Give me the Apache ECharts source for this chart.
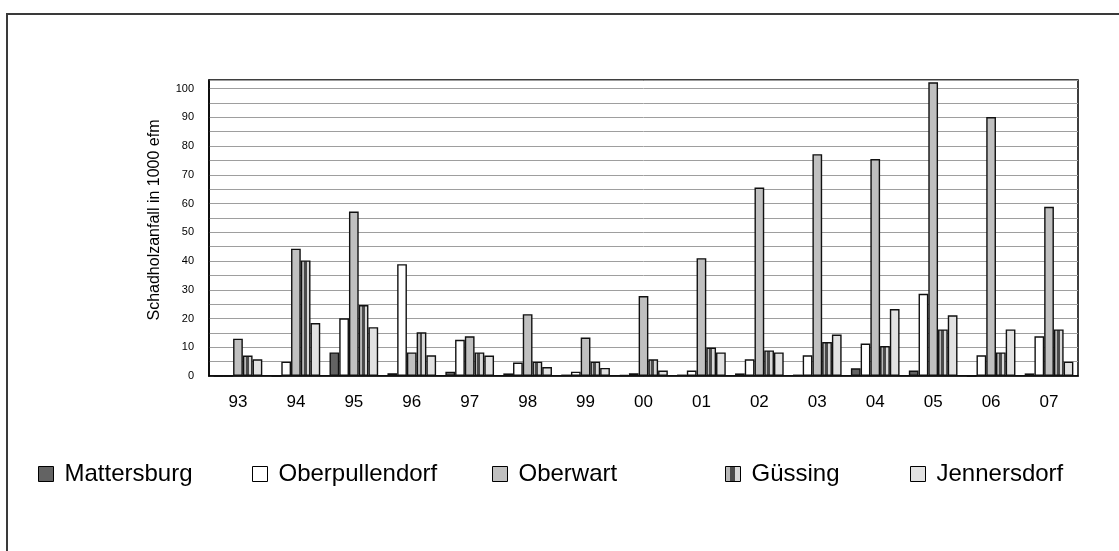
<!DOCTYPE html>
<html>
<head>
<meta charset="utf-8">
<script src="https://cdn.jsdelivr.net/npm/echarts@6/dist/echarts.min.js"></script>
<style>
  html, body { margin: 0; padding: 0; background: #fff; }
  #chart { width: 1119px; height: 551px; }
</style>
</head>
<body>
<div id="chart"></div>
<script>
// Schadholzanfall (1000 efm) per district, 1993–2007
const years = ['93','94','95','96','97','98','99','00','01','02','03','04','05','06','07'];
const mattersburg    = [0, 0, 8.2, 1.0, 1.5, 0.9, 0.5, 0.4, 0.5, 0.9, 0.5, 2.7, 1.9, 0, 0.9];
const oberpullendorf = [0, 5.0, 20.1, 38.9, 12.6, 4.7, 1.5, 1.0, 1.9, 5.8, 7.2, 11.3, 28.6, 7.2, 13.8];
const oberwart       = [13.0, 44.3, 57.2, 8.2, 13.8, 21.5, 13.4, 27.8, 41.0, 65.6, 77.2, 75.5, 102.2, 90.1, 58.9];
const guessing       = [7.1, 40.2, 24.7, 15.2, 8.2, 5.0, 5.0, 5.8, 9.9, 8.9, 11.8, 10.4, 16.2, 8.2, 16.2];
const jennersdorf    = [5.8, 18.4, 17.0, 7.2, 7.1, 3.1, 2.8, 1.9, 8.2, 8.2, 14.4, 23.3, 21.1, 16.2, 5.0];

const FONT = '"Liberation Sans", Arial, sans-serif';

// vertical stripe fill for Güssing
const stripes = {
  type: 'linear', x: 0, y: 0, x2: 1, y2: 0,
  colorStops: [
    { offset: 0.00, color: '#b8b8b8' },
    { offset: 0.30, color: '#b8b8b8' },
    { offset: 0.30, color: '#4a4a4a' },
    { offset: 0.60, color: '#4a4a4a' },
    { offset: 0.60, color: '#d8d8d8' },
    { offset: 1.00, color: '#d8d8d8' }
  ]
};

const seriesDefs = [
  { name: 'Mattersburg', data: mattersburg, color: '#636363' },
  { name: 'Oberpullendorf', data: oberpullendorf, color: '#ffffff' },
  { name: 'Oberwart', data: oberwart, color: '#c0c0c0' },
  { name: 'Güssing', data: guessing, color: stripes },
  { name: 'Jennersdorf', data: jennersdorf, color: '#e2e2e2' }
];

const legendLeft = [38, 252, 492, 725, 910];

const chart = echarts.init(document.getElementById('chart'), null, { renderer: 'canvas' });
chart.setOption({
  animation: false,
  backgroundColor: '#fff',
  grid: {
    left: 209, right: 41, top: 80, bottom: 175,
    show: true, borderColor: '#000', borderWidth: 1.5, backgroundColor: 'transparent'
  },
  legend: seriesDefs.map((s, i) => ({
    data: [s.name],
    left: legendLeft[i],
    top: 462,
    padding: 0,
    itemWidth: 15, itemHeight: 15, itemGap: 0,
    icon: 'rect',
    textStyle: { fontFamily: FONT, fontSize: 24, color: '#000', padding: [0, 0, 0, 6] },
    itemStyle: { borderColor: '#000', borderWidth: 1 }
  })),
  xAxis: {
    type: 'category',
    data: years,
    axisLine: { show: true, lineStyle: { color: '#000', width: 1.5 } },
    axisTick: { show: false },
    axisLabel: { fontFamily: FONT, fontSize: 17, color: '#000', margin: 18 }
  },
  yAxis: {
    type: 'value',
    min: 0, max: 103, interval: 5,
    axisLine: { show: true, lineStyle: { color: '#000', width: 1.5 } },
    axisTick: { show: false },
    axisLabel: {
      fontFamily: FONT, fontSize: 11, color: '#000', margin: 15,
      formatter: v => (v % 10 === 0 ? String(v) : '')
    },
    splitLine: { show: true, lineStyle: { color: '#9e9e9e', width: 1 } }
  },
  series: seriesDefs.map(s => ({
    name: s.name,
    type: 'bar',
    data: s.data,
    barGap: '0%',
    barCategoryGap: '16%',
    itemStyle: { color: s.color, borderColor: '#111', borderWidth: 1.4 }
  })),
  graphic: [
    {
      type: 'rect',
      shape: { x: 7, y: 14, width: 1200, height: 600 },
      style: { fill: 'none', stroke: '#3a3a3a', lineWidth: 2 },
      silent: true
    },
    {
      type: 'text',
      x: 155, y: 220,
      rotation: Math.PI / 2,
      style: {
        text: 'Schadholzanfall in 1000 efm',
        font: '16px ' + FONT,
        fill: '#000',
        align: 'center',
        verticalAlign: 'middle'
      }
    }
  ]
});
</script>
</body>
</html>
